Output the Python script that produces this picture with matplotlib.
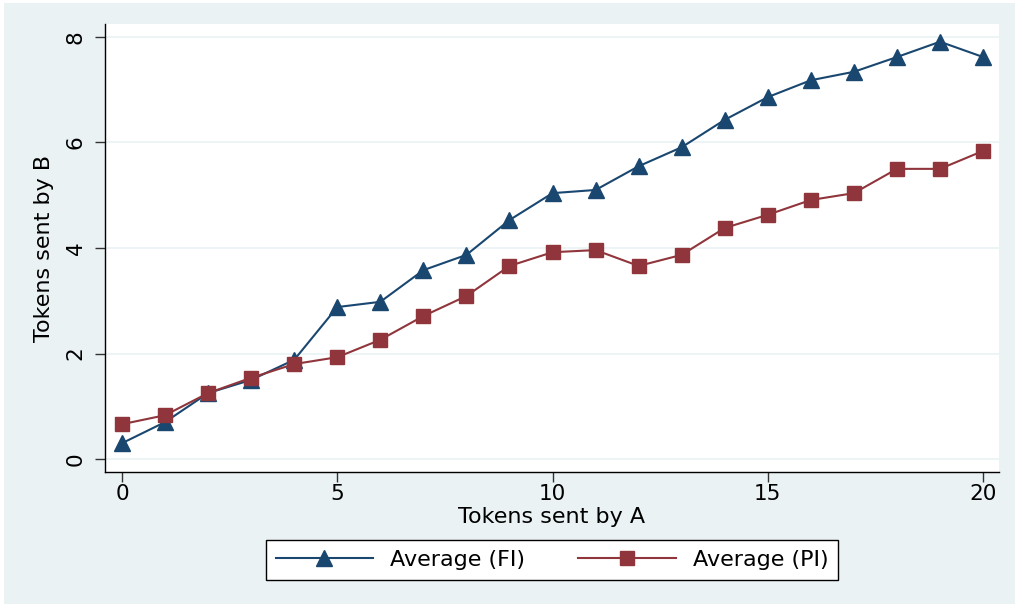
import numpy as np
import matplotlib.pyplot as plt
from matplotlib.patches import Rectangle

plt.rcParams['font.family'] = ['DejaVu Sans']

tokens_a = np.arange(0, 21)
avg_fi = [0.30, 0.70, 1.25, 1.50, 1.88, 2.88, 2.98, 3.58, 3.87, 4.53, 5.04,
          5.10, 5.55, 5.91, 6.43, 6.86, 7.18, 7.34, 7.62, 7.91, 7.62]
avg_pi = [0.66, 0.83, 1.25, 1.54, 1.80, 1.93, 2.26, 2.71, 3.09, 3.66, 3.92,
          3.96, 3.66, 3.87, 4.38, 4.63, 4.91, 5.04, 5.50, 5.50, 5.84]
x_ticks = [0, 5, 10, 15, 20]
y_ticks = [0, 2, 4, 6, 8]

bg = '#EAF2F3'
blue = '#1A476F'
red = '#90353B'

W, H = 1015, 604
fig = plt.figure(figsize=(W / 100, H / 100), dpi=100, facecolor='white')
# stata-style outer background (small white strip at top/left)
fig.patches.append(Rectangle((4 / W, 0), 1 - 4 / W, (H - 3) / H,
                             transform=fig.transFigure, facecolor=bg,
                             edgecolor='none', zorder=-10))

ax = fig.add_axes([105 / W, (H - 472) / H, (999 - 105) / W, (472 - 24) / H])
ax.set_facecolor('white')

ax.plot(tokens_a, avg_fi, color=blue, lw=1.5, marker='^', ms=12,
        label='Average (FI)', zorder=3)
ax.plot(tokens_a, avg_pi, color=red, lw=1.5, marker='s', ms=10,
        label='Average (PI)', zorder=3)

ax.set_xlim(-0.395, 20.37)
ax.set_ylim(-0.246, 8.246)
ax.set_xticks(x_ticks)
ax.set_yticks(y_ticks)
ax.grid(axis='y', color=bg, lw=1.2, zorder=0)
ax.set_axisbelow(True)

for s in ['top', 'right']:
    ax.spines[s].set_visible(False)
for s in ['left', 'bottom']:
    ax.spines[s].set_color('black')
    ax.spines[s].set_linewidth(1.0)

ax.tick_params(axis='both', direction='out', length=7, width=1, colors='#333333',
               labelcolor='black', labelsize=15.5)
ax.tick_params(axis='x', pad=2)
ax.tick_params(axis='y', pad=7)
for lbl in ax.get_yticklabels():
    lbl.set_rotation(90)
    lbl.set_va('center')

ax.set_xlabel('Tokens sent by A', fontsize=16, labelpad=2)
ax.set_ylabel('Tokens sent by B', fontsize=16, labelpad=8)

leg = fig.legend(loc='center', bbox_to_anchor=(552 / W, 1 - 560 / H), ncol=2,
                 fontsize=16, frameon=True, fancybox=False, handlelength=4.4,
                 columnspacing=2.4, handletextpad=0.75, borderpad=0.45,
                 borderaxespad=0, framealpha=1)
leg.get_frame().set_edgecolor('black')
leg.get_frame().set_linewidth(1.0)
leg.get_frame().set_facecolor('white')

fig.savefig('out.png', dpi=100, facecolor=fig.get_facecolor())
